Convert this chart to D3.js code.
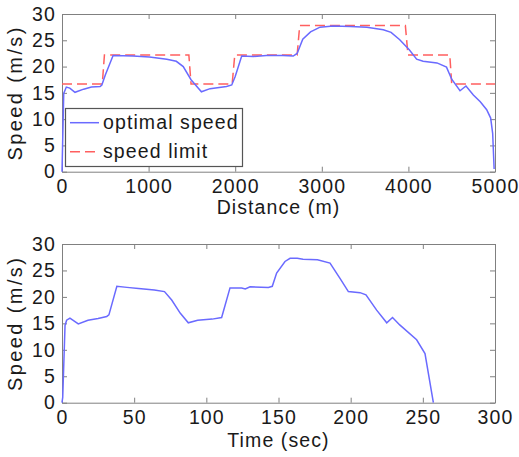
<!DOCTYPE html>
<html>
<head>
<meta charset="utf-8">
<script src="https://cdn.jsdelivr.net/npm/d3@7"></script>
<style>
  body { margin: 0; background: #fff; }
  svg { display: block; }
  text { font-family: "Liberation Sans", Arial, sans-serif; fill: #1a1a1a; }
</style>
</head>
<body>
<svg id="chart" width="519" height="457"></svg>
<script>
// optimal speed vs distance (m -> m/s)
const distance = [0, 20, 50, 90, 150, 250, 340, 440, 460, 500, 590, 820, 1010, 1210, 1320, 1400,
    1490, 1610, 1710, 1900, 1960, 2000, 2075, 2210, 2360, 2550, 2670, 2715, 2780, 2870, 2980,
    3130, 3330, 3520, 3710, 3800, 3900, 4010, 4095, 4170, 4330, 4440, 4500, 4596, 4665, 4750,
    4830, 4904, 4950, 4973, 4990];
const speedByDistance = [0, 14.9, 16.1, 15.9, 15.1, 15.7, 16.1, 16.2, 16.5, 18.4, 22.1, 22.0, 21.8,
    21.4, 21.0, 20.0, 17.5, 15.2, 15.8, 16.2, 16.5, 18.1, 22.0, 21.9, 22.1, 22.1, 22.0, 22.5,
    25.2, 26.6, 27.5, 27.7, 27.6, 27.5, 27.0, 26.5, 25.1, 23.2, 21.4, 21.0, 20.7, 19.9, 17.6,
    15.4, 16.3, 14.6, 13.3, 11.8, 10.2, 7.3, 0.5];

// speed limit steps
const limitDistance = [0, 465, 490, 1465, 1490, 1965, 1995, 2715, 2745, 3965, 3995, 4478, 4500, 5000];
const limitSpeed = [16.7, 16.7, 22.2, 22.2, 16.7, 16.7, 22.2, 22.2, 27.8, 27.8, 22.2, 22.2, 16.7, 16.7];

// optimal speed vs time (sec -> m/s)
const time = [0, 0.5, 2.1, 3.2, 5.5, 11.3, 18, 25, 31, 32.5, 38, 45, 53, 64, 71, 76, 82, 87.5, 94,
    104, 110.6, 116.4, 124.5, 127, 130.3, 143, 145.7, 148.7, 154.5, 158, 163, 167, 177, 185.7,
    192.6, 198.4, 206.5, 210.6, 218, 225, 229, 234, 245.7, 251.5, 257.3];
const speedByTime = [0, 1, 14.6, 15.6, 16.0, 14.9, 15.6, 15.9, 16.3, 16.6, 22.0, 21.8, 21.6, 21.3,
    21.0, 19.4, 16.9, 15.1, 15.6, 15.8, 16.1, 21.7, 21.7, 21.5, 21.9, 21.8, 22.0, 24.5, 26.7,
    27.3, 27.3, 27.1, 27.0, 26.4, 23.5, 21.0, 20.8, 20.4, 17.5, 15.1, 16.1, 14.7, 11.9, 9.3, 0];

const distTicks = [0, 1000, 2000, 3000, 4000, 5000];
const timeTicks = [0, 50, 100, 150, 200, 250, 300];
const speedTicks = [0, 5, 10, 15, 20, 25, 30];

const svg = d3.select("#chart");
const left = 62, right = 495;
const blue = "#6a6aff", red = "#ff5f5f";
const fmt = d3.format("d");

function drawPanel(cfg) {
    const x = d3.scaleLinear().domain(cfg.xDomain).range([left, right]);
    const y = d3.scaleLinear().domain([0, 30]).range([cfg.bottom, cfg.top]);
    const g = svg.append("g");

    // ticks on all four sides, pointing inward (matlab style)
    const styleAxis = function(sel) {
        sel.attr("font-family", null).attr("font-size", null);
        sel.select(".domain").attr("stroke", "#808080");
        sel.selectAll(".tick line").attr("stroke", "#808080");
        sel.selectAll(".tick text")
            .style("font-size", "19.5px")
            .style("letter-spacing", "1.1px")
            .attr("fill", "#1a1a1a");
    };
    g.append("g").attr("transform", "translate(0," + cfg.bottom + ")")
        .call(d3.axisBottom(x).tickValues(cfg.xTicks).tickFormat(fmt).tickSizeInner(-5).tickSizeOuter(0).tickPadding(7.5))
        .call(styleAxis);
    g.append("g").attr("transform", "translate(0," + cfg.top + ")")
        .call(d3.axisTop(x).tickValues(cfg.xTicks).tickSizeInner(-5).tickSizeOuter(0).tickFormat(""))
        .call(styleAxis);
    g.append("g").attr("transform", "translate(" + left + ",0)")
        .call(d3.axisLeft(y).tickValues(speedTicks).tickFormat(fmt).tickSizeInner(-5).tickSizeOuter(0).tickPadding(6))
        .call(styleAxis);
    g.append("g").attr("transform", "translate(" + right + ",0)")
        .call(d3.axisRight(y).tickValues(speedTicks).tickSizeInner(-5).tickSizeOuter(0).tickFormat(""))
        .call(styleAxis);

    const line = d3.line().x(d => x(d[0])).y(d => y(d[1]));

    if (cfg.limit) {
        g.append("path")
            .datum(d3.zip(cfg.limit[0], cfg.limit[1]))
            .attr("d", line)
            .attr("fill", "none")
            .attr("stroke", red)
            .attr("stroke-width", 1.5)
            .attr("stroke-dasharray", "10,5");
    }
    g.append("path")
        .datum(d3.zip(cfg.xs, cfg.ys))
        .attr("d", line)
        .attr("fill", "none")
        .attr("stroke", blue)
        .attr("stroke-width", 1.5);

    g.append("text")
        .attr("x", (left + right) / 2)
        .attr("y", cfg.xLabelY)
        .attr("text-anchor", "middle")
        .style("font-size", "19.5px")
        .style("letter-spacing", "1.1px")
        .text(cfg.xLabel);

    g.append("text")
        .attr("transform", "translate(22," + ((cfg.top + cfg.bottom) / 2) + ") rotate(-90)")
        .attr("text-anchor", "middle")
        .style("font-size", "20px")
        .style("letter-spacing", "2.4px")
        .text("Speed (m/s)");

    return { x: x, y: y, g: g };
}

const top1 = drawPanel({
    xDomain: [0, 5000], xTicks: distTicks, top: 14, bottom: 171.7,
    xs: distance, ys: speedByDistance, limit: [limitDistance, limitSpeed],
    xLabel: "Distance (m)", xLabelY: 214
});

drawPanel({
    xDomain: [0, 300], xTicks: timeTicks, top: 244, bottom: 402.7,
    xs: time, ys: speedByTime,
    xLabel: "Time (sec)", xLabelY: 447
});

// legend in the top panel
const legendItems = [
    { label: "optimal speed", color: blue, dash: null },
    { label: "speed limit", color: red, dash: "10,5" }
];
const lg = top1.g.append("g");
lg.append("rect")
    .attr("x", 65.5).attr("y", 108.5)
    .attr("width", 177).attr("height", 58)
    .attr("fill", "#fff")
    .attr("stroke", "#555")
    .attr("stroke-width", 1.2);
legendItems.forEach(function(d, i) {
    const cy = 122.7 + i * 29;
    lg.append("line")
        .attr("x1", 70).attr("x2", 99)
        .attr("y1", cy).attr("y2", cy)
        .attr("stroke", d.color)
        .attr("stroke-width", 1.5)
        .attr("stroke-dasharray", d.dash);
    lg.append("text")
        .attr("x", 103).attr("y", cy + 6.5)
        .style("font-size", "19.5px")
        .style("letter-spacing", "1.1px")
        .text(d.label);
});
</script>
</body>
</html>
